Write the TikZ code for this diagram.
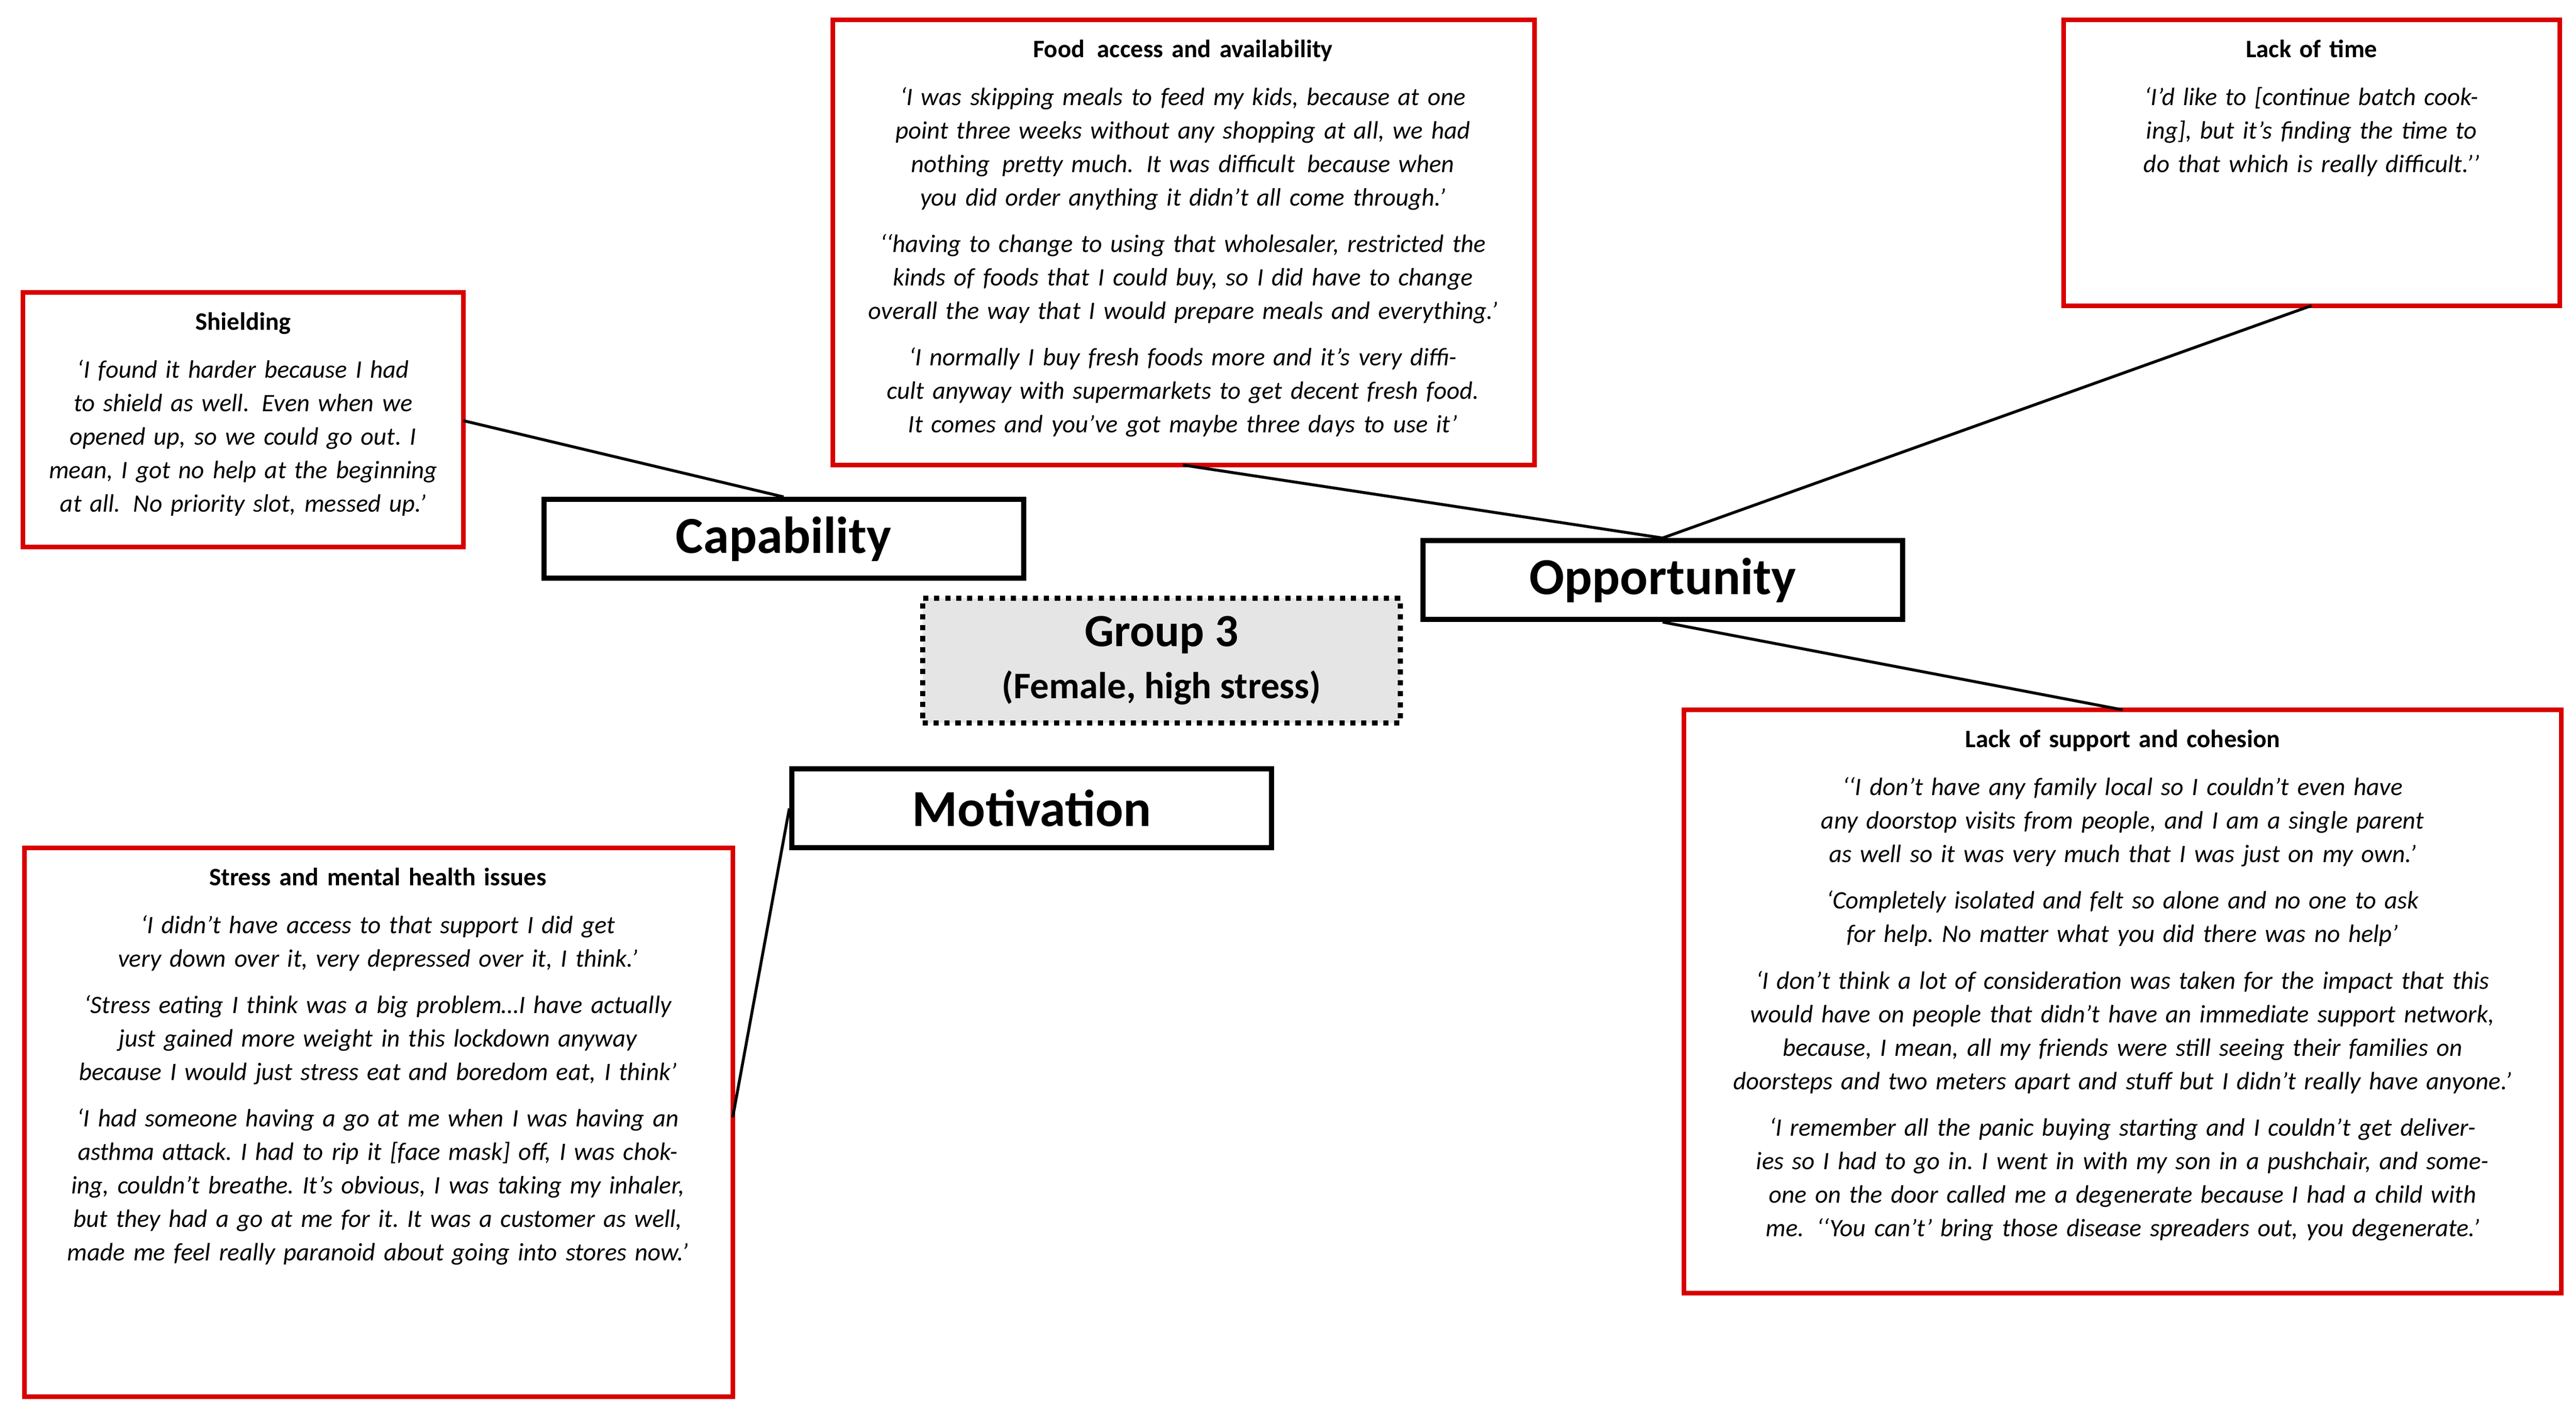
\documentclass[tikz,border=0pt]{standalone}
\usepackage{fontspec}
\setmainfont{Carlito}
\begin{document}
\begin{tikzpicture}[x=0.02cm,y=-0.02cm,
 qbox/.style={draw=red!85!black,line width=1.6pt},
 cbox/.style={draw=black,line width=1.8pt,font=\fontsize{18}{20}\selectfont\bfseries},
 txt/.style={anchor=north,align=center,font=\fontsize{8.7}{11.6}\selectfont},
 con/.style={line width=1pt}]
\useasboundingbox (0,0) rectangle (1568,861);
\newcommand\hd[1]{\frenchspacing\hyphenpenalty=10000\relax\exhyphenpenalty=10000\relax{\upshape\bfseries #1}\par\vspace{5pt}\itshape}
\newcommand\pp{\par\vspace{4.5pt}}
% quote boxes
\draw[qbox] (507,12) rectangle (934,283); \coordinate (foodB) at (720,283);
\node[txt,text width=8.3cm] (food) at (720,18) {\hd{Food\, access and availability}‘I was skipping meals to feed my kids, because at one point three weeks without any shopping at all, we had nothing\, pretty much.\, It was difficult\, because when you did order anything it didn’t all come through.’\pp‘‘having to change to using that wholesaler, restricted the kinds of foods that I could buy, so I did have to change overall the way that I would prepare meals and everything.’\pp‘I normally I buy fresh foods more and it’s very difficult anyway with supermarkets to get decent fresh food. It comes and you’ve got maybe three days to use it’};
\draw[qbox] (1256,12) rectangle (1558,186); \coordinate (timeB) at (1407,186);
\node[txt,text width=5.4cm] (time) at (1407,18) {\hd{Lack of time}‘I’d like to [continue batch cooking], but it’s finding the time to do that which is really difficult.’’};
\draw[qbox] (14,178) rectangle (282,333); \coordinate (shieldR) at (282,256);
\node[txt,text width=5.1cm] (shield) at (148,184) {\hd{Shielding}‘I found it harder because I had to shield as well.\, Even when we opened up, so we could go out. I mean, I got no help at the beginning at all.\, No priority slot, messed up.’};
\draw[qbox] (15,516) rectangle (446,850); \coordinate (stressR) at (446,680);
\node[txt,text width=8.3cm] (stress) at (230,522) {\hd{Stress and mental health issues}‘I didn’t have access to that support I did get very down over it, very depressed over it, I think.’\pp‘Stress eating I think was a big problem…I have actually just gained more weight in this lockdown anyway because I would just stress eat and boredom eat, I think’\pp‘I had someone having a go at me when I was having an asthma attack. I had to rip it [face mask] off, I was choking, couldn’t breathe. It’s obvious, I was taking my inhaler, but they had a go at me for it. It was a customer as well, made me feel really paranoid about going into stores now.’};
\draw[qbox] (1025,432) rectangle (1559,787); \coordinate (suppT) at (1292,432);
\node[txt,text width=10.1cm] (supp) at (1292,438) {\hd{Lack of support and cohesion}‘‘I don’t have any family local so I couldn’t even have any doorstop visits from people, and I am a single parent as well so it was very much that I was just on my own.’\pp‘Completely isolated and felt so alone and no one to ask for help. No matter what you did there was no help’\pp‘I don’t think a lot of consideration was taken for the impact that this would have on people that didn’t have an immediate support network, because, I mean, all my friends were still seeing their families on doorsteps and two meters apart and stuff but I didn’t really have anyone.’\pp‘I remember all the panic buying starting and I couldn’t get deliveries so I had to go in. I went in with my son in a pushchair, and someone on the door called me a degenerate because I had a child with me.\, ‘‘You can’t’ bring those disease spreaders out, you degenerate.’};
% COM nodes
\node[cbox,minimum width=5.84cm,minimum height=0.96cm] (cap) at (477,328) {Capability};
\node[cbox,minimum width=5.84cm,minimum height=0.96cm] (opp) at (1012,353) {Opportunity};
\node[cbox,minimum width=5.84cm,minimum height=0.96cm] (mot) at (628,492) {Motivation};
\node[draw=black,line width=1.8pt,dotted,fill=gray!20,minimum width=5.82cm,minimum height=1.52cm,align=center,font=\fontsize{16}{19}\selectfont\bfseries] (grp) at (707,402) {Group 3\\[-1pt]{\fontsize{13}{15}\selectfont(Female, high stress)}};
% connectors
\draw[con] (shieldR) -- (cap.north);
\draw[con] (foodB) -- (opp.north);
\draw[con] (timeB) -- (opp.north);
\draw[con] (opp.south) -- (suppT);
\draw[con] (mot.west) -- (stressR);
\end{tikzpicture}
\end{document}
